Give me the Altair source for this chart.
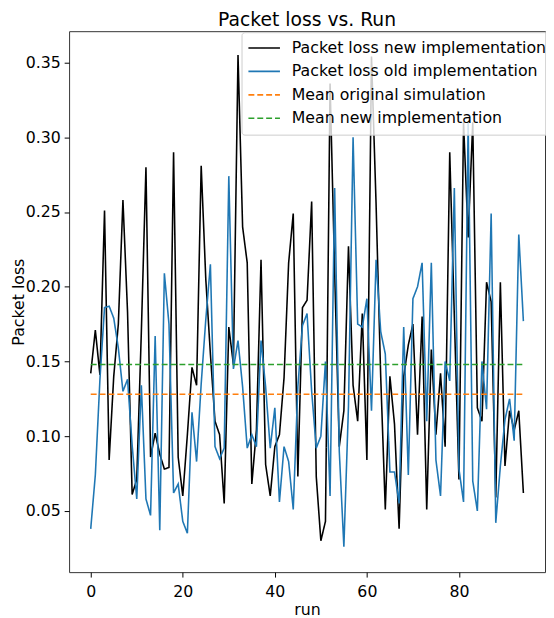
import altair as alt
import pandas as pd

runs = list(range(95))

new_impl = [0.142, 0.171, 0.141, 0.251, 0.084, 0.140, 0.175, 0.258, 0.183, 0.061,
            0.071, 0.170, 0.280, 0.086, 0.102, 0.088, 0.078, 0.079, 0.290, 0.086,
            0.060, 0.101, 0.146, 0.134, 0.281, 0.205, 0.155, 0.110, 0.101, 0.055,
            0.173, 0.148, 0.355, 0.240, 0.216, 0.068, 0.104, 0.218, 0.081, 0.060,
            0.093, 0.101, 0.139, 0.216, 0.249, 0.073, 0.186, 0.191, 0.257, 0.073,
            0.030, 0.043, 0.336, 0.210, 0.093, 0.117, 0.227, 0.134, 0.110, 0.182,
            0.084, 0.354, 0.255, 0.140, 0.051, 0.140, 0.108, 0.038, 0.140, 0.161,
            0.175, 0.101, 0.180, 0.051, 0.158, 0.101, 0.142, 0.093, 0.290, 0.180,
            0.071, 0.310, 0.233, 0.310, 0.119, 0.110, 0.203, 0.190, 0.059, 0.203,
            0.080, 0.117, 0.104, 0.117, 0.062]

old_impl = [0.038, 0.074, 0.138, 0.186, 0.187, 0.179, 0.159, 0.130, 0.138, 0.094,
            0.058, 0.134, 0.058, 0.047, 0.167, 0.037, 0.209, 0.175, 0.062, 0.068,
            0.043, 0.035, 0.116, 0.083, 0.135, 0.178, 0.215, 0.093, 0.085, 0.092,
            0.274, 0.145, 0.164, 0.133, 0.092, 0.101, 0.093, 0.164, 0.133, 0.092,
            0.119, 0.056, 0.093, 0.083, 0.051, 0.133, 0.174, 0.182, 0.130, 0.092,
            0.100, 0.150, 0.060, 0.266, 0.090, 0.026, 0.120, 0.300, 0.175, 0.173,
            0.192, 0.117, 0.218, 0.170, 0.155, 0.076, 0.076, 0.055, 0.173, 0.074,
            0.192, 0.200, 0.216, 0.110, 0.216, 0.084, 0.060, 0.150, 0.137, 0.266,
            0.078, 0.056, 0.310, 0.070, 0.050, 0.150, 0.118, 0.249, 0.042, 0.080,
            0.111, 0.125, 0.097, 0.235, 0.177]

mean_original = 0.128
mean_new = 0.148

series_names = ["Packet loss new implementation", "Packet loss old implementation",
                "Mean original simulation", "Mean new implementation"]
series_colors = ["black", "#1f77b4", "#ff7f0e", "#2ca02c"]
series_dashes = [[1, 0], [1, 0], [6, 3], [6, 3]]

rows = []
for r, v in zip(runs, new_impl):
    rows.append({"run": r, "value": v, "series": series_names[0]})
for r, v in zip(runs, old_impl):
    rows.append({"run": r, "value": v, "series": series_names[1]})
for r in (runs[0], runs[-1]):
    rows.append({"run": r, "value": mean_original, "series": series_names[2]})
    rows.append({"run": r, "value": mean_new, "series": series_names[3]})
df = pd.DataFrame(rows)

FONT = "DejaVu Sans"

legend = alt.Legend(
    title=None, orient="none", legendX=175, legendY=1,
    symbolType="stroke", symbolSize=1024, symbolStrokeWidth=1.6,
    labelFontSize=16, labelFont=FONT, labelColor="black", labelLimit=400,
    padding=6, rowPadding=3.8, labelOffset=11, clipHeight=20,
    fillColor="rgba(255,255,255,0.8)", strokeColor="#cccccc", cornerRadius=3,
)

x_enc = alt.X("run:Q", title="run",
              scale=alt.Scale(domain=[-4.7, 98.7], nice=False, zero=False),
              axis=alt.Axis(values=[0, 20, 40, 60, 80], format="d"))
y_enc = alt.Y("value:Q", title="Packet loss",
              scale=alt.Scale(domain=[0.009, 0.371], nice=False, zero=False),
              axis=alt.Axis(values=[0.05, 0.10, 0.15, 0.20, 0.25, 0.30, 0.35], format=".2f"))
color_enc = alt.Color("series:N", scale=alt.Scale(domain=series_names, range=series_colors), legend=legend)
dash_enc = alt.StrokeDash("series:N", scale=alt.Scale(domain=series_names, range=series_dashes), legend=legend)

layers = []
for name in series_names:
    layers.append(
        alt.Chart(df)
        .transform_filter(alt.datum.series == name)
        .mark_line(strokeWidth=1.6, clip=True)
        .encode(x=x_enc, y=y_enc, color=color_enc, strokeDash=dash_enc)
    )

chart = alt.layer(*layers).properties(
    width=483, height=549,
    title=alt.Title("Packet loss vs. Run", fontSize=19, font=FONT, fontWeight="normal",
                    color="black", anchor="middle", offset=1),
    autosize=alt.AutoSizeParams(type="none"),
    padding={"left": 62, "top": 19, "right": 1, "bottom": 42},
).configure_view(
    stroke="#333333", strokeWidth=1
).configure_axis(
    grid=False, domain=False, tickSize=5, tickColor="black", tickWidth=1,
    labelFont=FONT, labelFontSize=16, labelColor="black",
    titleFont=FONT, titleFontSize=16, titleColor="black", titleFontWeight="normal",
).configure_axisX(
    labelPadding=7, titlePadding=2
).configure_axisY(
    labelPadding=4, titlePadding=-1
)

chart.save("out.html", embed_options={"renderer": "svg", "actions": False})
